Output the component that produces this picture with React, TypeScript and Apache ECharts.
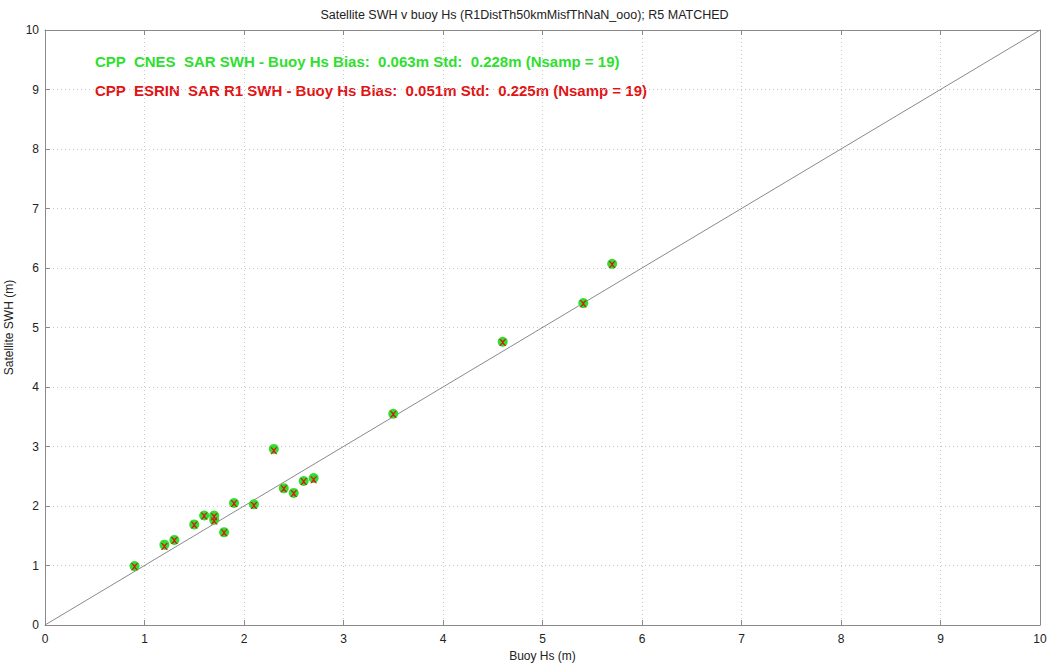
import React, { useEffect, useRef } from "react";
import * as echarts from "echarts";

const buoyHs = [0.9, 1.2, 1.3, 1.5, 1.6, 1.7, 1.7, 1.8, 1.9, 2.1, 2.3, 2.4, 2.5, 2.6, 2.7, 3.5, 4.6, 5.41, 5.7];
const cnesSwh = [0.99, 1.35, 1.43, 1.69, 1.84, 1.84, 1.77, 1.56, 2.05, 2.03, 2.96, 2.3, 2.22, 2.42, 2.47, 3.55, 4.76, 5.41, 6.07];
const esrinSwh = [0.98, 1.32, 1.42, 1.68, 1.83, 1.82, 1.75, 1.55, 2.04, 2.01, 2.93, 2.29, 2.21, 2.41, 2.44, 3.54, 4.75, 5.4, 6.06];
const ticks = [0, 1, 2, 3, 4, 5, 6, 7, 8, 9, 10];
const titleText = "Satellite SWH v buoy Hs (R1DistTh50kmMisfThNaN_ooo); R5 MATCHED";
const legendCnes = "CPP  CNES  SAR SWH - Buoy Hs Bias:  0.063m Std:  0.228m (Nsamp = 19)";
const legendEsrin = "CPP  ESRIN  SAR R1 SWH - Buoy Hs Bias:  0.051m Std:  0.225m (Nsamp = 19)";
const xName = "Buoy Hs (m)";
const yName = "Satellite SWH (m)";

const GREEN = "#2ee02e";
const RED = "#e01414";
const FONT = "Liberation Sans, Arial, sans-serif";

export default function App() {
  const ref = useRef<HTMLDivElement>(null);
  useEffect(() => {
    if (!ref.current) return;
    const chart = echarts.init(ref.current, null, { renderer: "svg" });
    const axisCommon = {
      type: "value",
      min: ticks[0],
      max: ticks[ticks.length - 1],
      interval: 1,
      axisLine: { show: true, onZero: false, lineStyle: { color: "#8a8a8a", width: 1 } },
      axisTick: { show: true, inside: true, length: 5, lineStyle: { color: "#8a8a8a" } },
    };
    chart.setOption({
      animation: false,
      backgroundColor: "#ffffff",
      title: {
        text: titleText,
        left: "center",
        top: 3,
        textStyle: { fontFamily: FONT, fontSize: 12.5, fontWeight: "normal", color: "#222" },
      },
      grid: { left: 45, right: 9, top: 30, bottom: 43, show: false, containLabel: false, outerBoundsMode: "none" },
      graphic: [
        { type: "text", left: 95, top: 54, style: { text: legendCnes, fill: GREEN, font: `bold 15px ${FONT}` } },
        { type: "text", left: 95, top: 83, style: { text: legendEsrin, fill: RED, font: `bold 15px ${FONT}` } },
      ],
      xAxis: [
        {
          ...axisCommon,
          position: "bottom",
          name: xName,
          nameLocation: "middle",
          nameGap: 25,
          nameTextStyle: { fontFamily: FONT, fontSize: 12, color: "#222" },
          axisLabel: { fontFamily: FONT, fontSize: 12, color: "#222", margin: 8 },
          splitLine: { show: true, lineStyle: { type: [1, 3], color: "#c8c8c8" } },
        },
        {
          ...axisCommon,
          position: "top",
          axisLabel: { show: false },
          splitLine: { show: false },
        },
      ],
      yAxis: [
        {
          ...axisCommon,
          position: "left",
          name: yName,
          nameLocation: "middle",
          nameGap: 27,
          nameTextStyle: { fontFamily: FONT, fontSize: 12, color: "#222" },
          axisLabel: { fontFamily: FONT, fontSize: 12, color: "#222", margin: 6 },
          splitLine: { show: true, lineStyle: { type: [1, 3], color: "#c8c8c8" } },
        },
        {
          ...axisCommon,
          position: "right",
          axisLabel: { show: false },
          splitLine: { show: false },
        },
      ],
      series: [
        {
          type: "line",
          data: [[ticks[0], ticks[0]], [ticks[ticks.length - 1], ticks[ticks.length - 1]]],
          symbol: "none",
          lineStyle: { color: "#8a8a8a", width: 1 },
          silent: true,
          z: 1,
        },
        {
          type: "scatter",
          name: "CNES",
          data: buoyHs.map((x, i) => [x, cnesSwh[i]]),
          symbol: "circle",
          symbolSize: 10,
          itemStyle: { color: GREEN, opacity: 1 },
          z: 2,
        },
        {
          type: "scatter",
          name: "ESRIN",
          data: buoyHs.map((x, i) => [x, esrinSwh[i]]),
          symbol: "path://M0,0 L2,0 L5,3 L8,0 L10,0 L6,5 L10,10 L8,10 L5,7 L2,10 L0,10 L4,5 Z",
          symbolSize: 7,
          itemStyle: { color: RED, opacity: 1 },
          z: 3,
        },
      ],
    });
    return () => chart.dispose();
  }, []);
  return <div ref={ref} style={{ width: 1049, height: 668, position: "absolute", left: 0, top: 0 }} />;
}
